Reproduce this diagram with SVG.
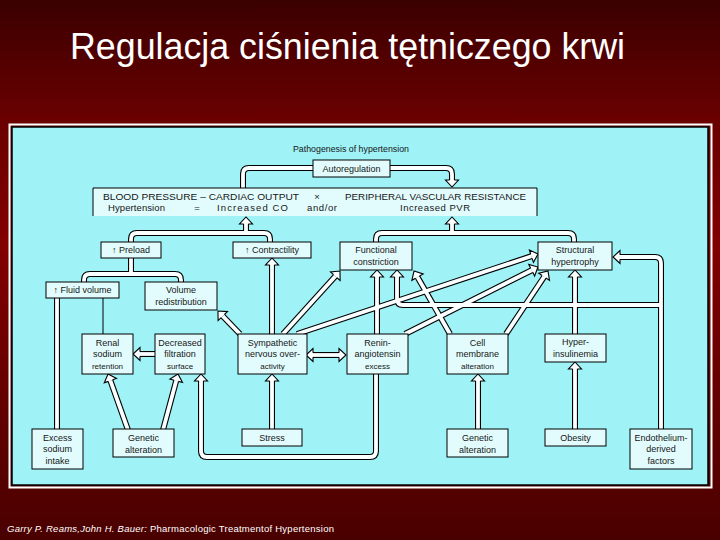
<svg xmlns="http://www.w3.org/2000/svg" width="720" height="540" viewBox="0 0 720 540">
<style>
.t{font-family:"Liberation Sans",Arial,sans-serif;font-size:9px;fill:#161616;text-anchor:middle}
.s{font-size:8px}
.bt{font-family:"Liberation Sans",Arial,sans-serif;font-size:9.5px;fill:#161616}
.bx{fill:#e2fcfd;stroke:#000;stroke-width:1}
.co use{fill:none;stroke:#000;stroke-width:6}
.ci use{fill:none;stroke:#fbffff;stroke-width:3.8}
.ae{marker-end:url(#ah)}
.ab{marker-start:url(#ah);marker-end:url(#ah)}
</style>
<defs>
<linearGradient id="bg" x1="0" y1="0" x2="0" y2="1">
<stop offset="0" stop-color="#3a0000"/>
<stop offset="0.22" stop-color="#6a0000"/>
<stop offset="0.45" stop-color="#820000"/>
<stop offset="0.88" stop-color="#560000"/>
<stop offset="1" stop-color="#4a0000"/>
</linearGradient>
<marker id="ah" markerUnits="userSpaceOnUse" orient="auto-start-reverse" refX="0" refY="0" markerWidth="20" markerHeight="20" overflow="visible">
<path d="M0,-6.5 L7,0 L0,6.5 Z" fill="#fbffff"/>
<path d="M0,-2.3 V-6.5 L7,0 L0,6.5 V2.3" fill="none" stroke="#000" stroke-width="1.1"/>
</marker>
<path id="p1" d="M314,168 H249 Q243,168 243,174 V189"/>
<path id="p2" d="M389,168 H446 Q452,168 452,174 V180"/>
<path id="p3" d="M131,243 V239 Q131,233 137,233 H264 Q270,233 270,239 V243"/>
<path id="p4" d="M246,233 V224"/>
<path id="p5" d="M376,243 V239 Q376,233 382,233 H568 Q574,233 574,239 V243"/>
<path id="p6" d="M452,233 V224"/>
<path id="p7" d="M131,257 V274 M84,283 V280 Q84,274 90,274 H175 Q181,274 181,280 V283"/>
<path id="p8" d="M57,430 V297"/>
<path id="p9" d="M156,354 H140"/>
<path id="p10" d="M128,430 L110.4,380.6"/>
<path id="p11" d="M163,430 L176.2,380.8"/>
<path id="p12" d="M376,373 V451 Q376,457 370,457 H207 Q201,457 201,451 V381"/>
<path id="p13" d="M272,430 V381"/>
<path id="p14" d="M272,335 V265"/>
<path id="p15" d="M240,334 L222.8,316.1"/>
<path id="p16" d="M283,334 L335.3,276.2"/>
<path id="p17" d="M297,334 L531.4,256.2"/>
<path id="p18" d="M405,334 L531.7,270.2"/>
<path id="p19" d="M377,335 V277"/>
<path id="p20" d="M661,430 V263 Q661,257 655,257 H620"/>
<path id="p21" d="M661,305 H403 Q397,305 397,299 V277"/>
<path id="p22" d="M450,334 L417.5,277.1"/>
<path id="p23" d="M506,334 L544.1,276.8"/>
<path id="p24" d="M575,335 V277"/>
<path id="p25" d="M575,430 V369"/>
<path id="p26" d="M478,430 V381"/>
<path id="p27" d="M313,355 H339"/>
</defs>

<rect x="0" y="0" width="720" height="540" fill="url(#bg)"/>
<text x="70" y="59" font-family="'Liberation Sans',Arial,sans-serif" font-size="36" fill="#fff" textLength="555" lengthAdjust="spacingAndGlyphs">Regulacja ciśnienia tętniczego krwi</text>

<rect x="9.5" y="124.5" width="702" height="363" fill="none" stroke="#fff" stroke-width="2"/>
<rect x="12" y="127" width="696" height="358" fill="#9ff2f6" stroke="#000" stroke-width="1.5"/>

<g id="connectors">
<g class="co">
<use href="#p1"/><use href="#p2"/><use href="#p3"/><use href="#p4"/><use href="#p5"/><use href="#p6"/><use href="#p7"/><use href="#p8"/><use href="#p9"/><use href="#p10"/><use href="#p11"/><use href="#p12"/><use href="#p13"/><use href="#p14"/><use href="#p15"/><use href="#p16"/><use href="#p17"/><use href="#p18"/><use href="#p19"/><use href="#p20"/><use href="#p21"/><use href="#p22"/><use href="#p23"/><use href="#p24"/><use href="#p25"/><use href="#p26"/><use href="#p27"/>
</g>
<g class="ci">
<use href="#p1"/><use href="#p2" class="ae"/><use href="#p3"/><use href="#p4" class="ae"/><use href="#p5"/><use href="#p6" class="ae"/><use href="#p7"/><use href="#p8"/><use href="#p9" class="ae"/><use href="#p10" class="ae"/><use href="#p11" class="ae"/><use href="#p12" class="ae"/><use href="#p13" class="ae"/><use href="#p14" class="ae"/><use href="#p15" class="ae"/><use href="#p16" class="ae"/><use href="#p17" class="ae"/><use href="#p18" class="ae"/><use href="#p19" class="ae"/><use href="#p20" class="ae"/><use href="#p21" class="ae"/><use href="#p22" class="ae"/><use href="#p23" class="ae"/><use href="#p24" class="ae"/><use href="#p25" class="ae"/><use href="#p26" class="ae"/><use href="#p27" class="ab"/>
</g>
<line x1="103" y1="298" x2="103" y2="334" stroke="#000" stroke-width="1"/>
</g>

<g id="n-patho"><text class="t" x="351" y="152" font-size="8" textLength="116" lengthAdjust="spacingAndGlyphs">Pathogenesis of hypertension</text></g>
<g id="n-autoreg"><rect class="bx" x="313" y="160" width="77" height="17"/><text class="t" x="351.5" y="171.5">Autoregulation</text></g>
<g id="n-bp">
<rect x="93" y="188" width="444" height="28" fill="#e2fcfd"/>
<path d="M93,216 V188 H537 V216" fill="none" stroke="#000" stroke-width="1"/>
<text class="bt" x="103" y="199.5" textLength="196" lengthAdjust="spacingAndGlyphs">BLOOD PRESSURE – CARDIAC OUTPUT</text>
<text class="bt" x="317" y="199.5" text-anchor="middle">×</text>
<text class="bt" x="345" y="199.5" textLength="181" lengthAdjust="spacingAndGlyphs">PERIPHERAL VASCULAR RESISTANCE</text>
<text class="bt" x="108" y="211" textLength="57" lengthAdjust="spacing">Hypertension</text>
<text class="bt" x="197" y="211" text-anchor="middle">=</text>
<text class="bt" x="217" y="211" textLength="71" lengthAdjust="spacing">Increased CO</text>
<text class="bt" x="307" y="211" textLength="30" lengthAdjust="spacing">and/or</text>
<text class="bt" x="400" y="211" textLength="70" lengthAdjust="spacing">Increased PVR</text>
</g>
<g id="n-preload"><rect class="bx" x="101" y="242" width="60" height="16"/><text class="t" x="131" y="253">↑ Preload</text></g>
<g id="n-contract"><rect class="bx" x="233" y="242" width="78" height="16"/><text class="t" x="272" y="253">↑ Contractility</text></g>
<g id="n-functional"><rect class="bx" x="340" y="242" width="72" height="28"/><text class="t" x="376" y="252.5">Functional</text><text class="t" x="376" y="264.5">constriction</text></g>
<g id="n-structural"><rect class="bx" x="538" y="242" width="74" height="28"/><text class="t" x="575" y="252.5">Structural</text><text class="t" x="575" y="264.5">hypertrophy</text></g>
<g id="n-fluid"><rect class="bx" x="46" y="282" width="73" height="16"/><text class="t" x="82.5" y="293">↑ Fluid volume</text></g>
<g id="n-volred"><rect class="bx" x="145" y="282" width="72" height="28"/><text class="t" x="181" y="292.5">Volume</text><text class="t" x="181" y="304.5">redistribution</text></g>
<g id="n-renal"><rect class="bx" x="82" y="334" width="51" height="40"/><text class="t" x="107.5" y="346">Renal</text><text class="t" x="107.5" y="357">sodium</text><text class="t s" x="107.5" y="369">retention</text></g>
<g id="n-decr"><rect class="bx" x="155" y="334" width="50" height="40"/><text class="t" x="180" y="346">Decreased</text><text class="t" x="180" y="357">filtration</text><text class="t s" x="180" y="369">surface</text></g>
<g id="n-symp"><rect class="bx" x="238" y="334" width="69" height="40"/><text class="t" x="272.5" y="346">Sympathetic</text><text class="t" x="272.5" y="357">nervous over-</text><text class="t s" x="272.5" y="369">activity</text></g>
<g id="n-renin"><rect class="bx" x="347" y="334" width="61" height="40"/><text class="t" x="377.5" y="346">Renin-</text><text class="t" x="377.5" y="357">angiotensin</text><text class="t s" x="377.5" y="369">excess</text></g>
<g id="n-cell"><rect class="bx" x="447" y="334" width="61" height="40"/><text class="t" x="477.5" y="346">Cell</text><text class="t" x="477.5" y="357">membrane</text><text class="t s" x="477.5" y="369">alteration</text></g>
<g id="n-hyper"><rect class="bx" x="545" y="334" width="61" height="28"/><text class="t" x="575.5" y="345">Hyper-</text><text class="t" x="575.5" y="357">insulinemia</text></g>
<g id="n-excess"><rect class="bx" x="32" y="429" width="51" height="40"/><text class="t" x="57.5" y="440.5">Excess</text><text class="t" x="57.5" y="452">sodium</text><text class="t" x="57.5" y="463.5">intake</text></g>
<g id="n-gen1"><rect class="bx" x="113" y="429" width="61" height="28"/><text class="t" x="143.5" y="440.5">Genetic</text><text class="t" x="143.5" y="452.5">alteration</text></g>
<g id="n-stress"><rect class="bx" x="242" y="429" width="60" height="17"/><text class="t" x="272" y="440.5">Stress</text></g>
<g id="n-gen2"><rect class="bx" x="447" y="429" width="61" height="28"/><text class="t" x="477.5" y="440.5">Genetic</text><text class="t" x="477.5" y="452.5">alteration</text></g>
<g id="n-obesity"><rect class="bx" x="545" y="429" width="61" height="17"/><text class="t" x="575.5" y="440.5">Obesity</text></g>
<g id="n-endo"><rect class="bx" x="630" y="429" width="62" height="40"/><text class="t" x="661" y="440.5">Endothelium-</text><text class="t" x="661" y="452">derived</text><text class="t" x="661" y="463.5">factors</text></g>

<text x="7" y="532" font-family="'Liberation Sans',Arial,sans-serif" font-size="9.5" fill="#fff" textLength="327" lengthAdjust="spacing"><tspan font-style="italic">Garry P. Reams,John H. Bauer: </tspan>Pharmacologic Treatmentof Hypertension</text>
</svg>
